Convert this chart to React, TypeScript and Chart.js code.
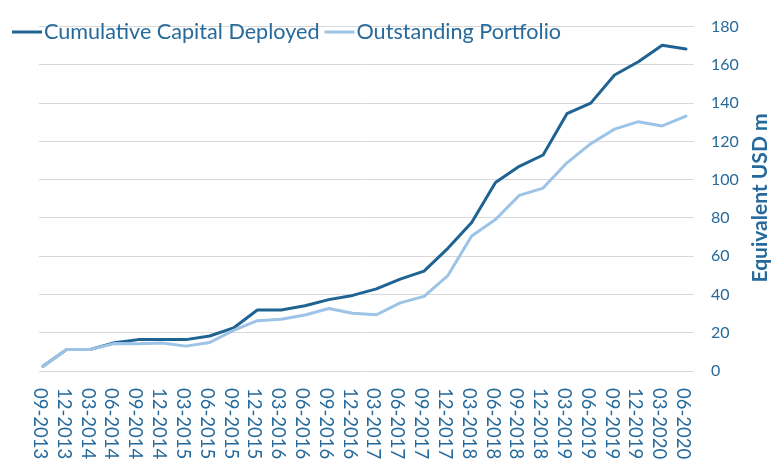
import React, { useEffect, useRef } from "react";
import { Chart, registerables } from "chart.js";

Chart.register(...registerables);

const categories = [
  "09-2013", "12-2013", "03-2014", "06-2014", "09-2014", "12-2014", "03-2015",
  "06-2015", "09-2015", "12-2015", "03-2016", "06-2016", "09-2016", "12-2016",
  "03-2017", "06-2017", "09-2017", "12-2017", "03-2018", "06-2018", "09-2018",
  "12-2018", "03-2019", "06-2019", "09-2019", "12-2019", "03-2020", "06-2020",
];

const cumulativeCapitalDeployed = [
  2.5, 11.3, 11.3, 14.8, 16.4, 16.4, 16.4, 18.3, 22.5, 31.9, 31.9, 34.1, 37.3, 39.5,
  42.9, 48.0, 52.2, 64.1, 77.6, 98.5, 107.0, 112.9, 134.5, 140.0, 154.7, 161.6, 170.3, 168.3,
];

const outstandingPortfolio = [
  2.5, 11.3, 11.3, 14.4, 14.2, 14.6, 13.0, 14.9, 21.2, 26.3, 27.1, 29.3, 32.7, 30.2,
  29.4, 35.6, 39.0, 49.9, 70.6, 79.2, 91.8, 95.6, 108.8, 118.8, 126.4, 130.3, 128.1, 133.2,
];

const yMin = 0;
const yMax = 180;
const yStep = 20;
const yTitle = "Equivalent USD m";

const DARK = "#1F6392";
const LIGHT = "#9DC3E6";
const TEXT = "#266A9B";
const GRID = "#D9D9D9";
const FONT = "Lato";

const overlayPlugin = {
  id: "overlay",
  afterDraw(chart: any) {
    const ctx = chart.ctx as CanvasRenderingContext2D;
    const xs = chart.scales.x;
    const area = chart.chartArea;
    ctx.save();
    ctx.fillStyle = TEXT;

    // rotated x-axis labels (reading top to bottom)
    ctx.font = `18.5px ${FONT}`;
    ctx.textAlign = "left";
    ctx.textBaseline = "middle";
    categories.forEach((lab, i) => {
      const x = xs.getPixelForValue(i);
      ctx.save();
      ctx.translate(x - 3, area.bottom + 17);
      ctx.rotate(Math.PI / 2);
      ctx.fillText(lab, 0, 0);
      ctx.restore();
    });

    // y-axis title (reading bottom to top)
    ctx.font = `bold 21px ${FONT}`;
    ctx.textAlign = "center";
    ctx.save();
    ctx.translate(760, 198);
    ctx.rotate(-Math.PI / 2);
    ctx.fillText(yTitle, 0, 0);
    ctx.restore();

    // legend
    ctx.font = `21.6px ${FONT}`;
    ctx.textAlign = "left";
    ctx.textBaseline = "middle";
    let lx = 12;
    const ly = 32;
    chart.data.datasets.slice().sort((a: any, b: any) => a.legendIndex - b.legendIndex).forEach((ds: any) => {
      ctx.strokeStyle = ds.borderColor;
      ctx.lineWidth = 3;
      ctx.lineCap = "butt";
      ctx.beginPath();
      ctx.moveTo(lx, ly);
      ctx.lineTo(lx + 30, ly);
      ctx.stroke();
      lx += 32;
      ctx.fillText(ds.label, lx, ly);
      lx += ctx.measureText(ds.label).width + 5;
    });
    ctx.restore();
  },
};

export default function App() {
  const canvasRef = useRef<HTMLCanvasElement | null>(null);

  useEffect(() => {
    document.body.style.margin = "0";
    const canvas = canvasRef.current;
    if (!canvas) return;
    const chart = new Chart(canvas, {
      type: "line",
      data: {
        datasets: [
          {
            label: "Cumulative Capital Deployed",
            data: cumulativeCapitalDeployed.map((v, i) => ({ x: i, y: v })),
            borderColor: DARK,
            backgroundColor: DARK,
            borderWidth: 3,
            pointRadius: 0,
            tension: 0,
            borderJoinStyle: "round",
            borderCapStyle: "round",
            order: 1,
            legendIndex: 0,
          } as any,
          {
            label: "Outstanding Portfolio",
            data: outstandingPortfolio.map((v, i) => ({ x: i, y: v })),
            borderColor: LIGHT,
            backgroundColor: LIGHT,
            borderWidth: 3,
            pointRadius: 0,
            tension: 0,
            borderJoinStyle: "round",
            borderCapStyle: "round",
            order: 0,
            legendIndex: 1,
          } as any,
        ],
      },
      options: {
        animation: false,
        responsive: true,
        maintainAspectRatio: false,
        layout: { padding: { left: 39, top: 16, bottom: 96, right: 0 } },
        plugins: {
          legend: { display: false },
          tooltip: { enabled: false },
        },
        scales: {
          x: {
            type: "linear",
            display: false,
            min: -0.168,
            max: categories.length - 1 + 0.336,
          },
          y: {
            position: "right",
            min: yMin,
            max: yMax,
            ticks: {
              stepSize: yStep,
              color: TEXT,
              font: { family: FONT, size: 16 },
              padding: 17,
            },
            grid: { color: GRID, lineWidth: 1, drawTicks: false },
            border: { display: false },
            afterFit: (scale: any) => {
              scale.width = 90;
            },
          },
        },
      },
      plugins: [overlayPlugin],
    });
    return () => chart.destroy();
  }, []);

  return (
    <div style={{ position: "relative", width: "784px", height: "467px" }}>
      <canvas ref={canvasRef} />
    </div>
  );
}
